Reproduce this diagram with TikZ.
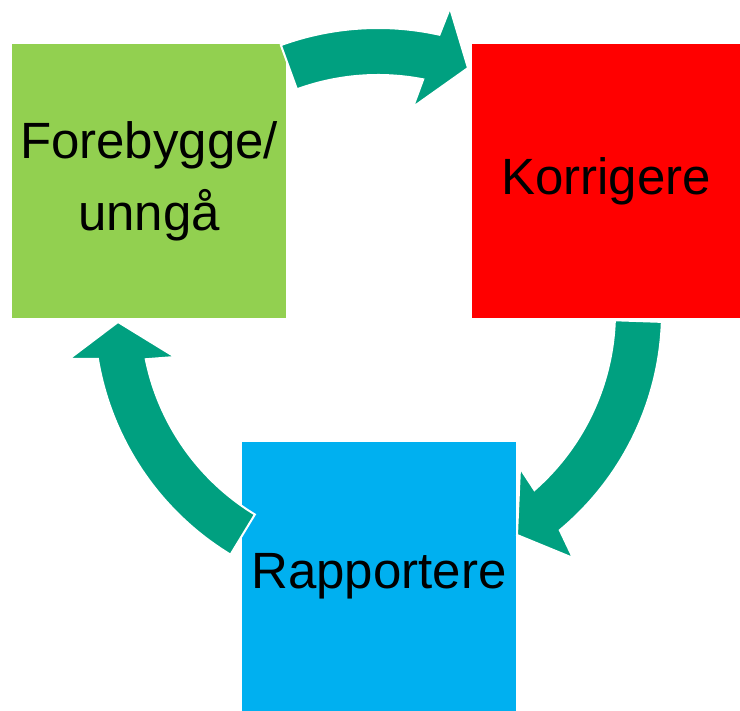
\documentclass[tikz,border=0pt]{standalone}
\usepackage{fontspec}
\setmainfont{Liberation Sans}
\usetikzlibrary{calc}
\definecolor{greenish}{RGB}{146,208,80}
\definecolor{reddish}{RGB}{255,0,0}
\definecolor{bluish}{RGB}{0,176,240}
\definecolor{tealish}{RGB}{0,160,128}

\begin{document}
\begin{tikzpicture}[
  x=1pt,
  y=1pt,
  box/.style={
    draw=none,
    rectangle,
    inner sep=0pt,
    align=center,
    font=\fontsize{51}{72}\selectfont
  },
  cyc/.style={
    fill=tealish,
    draw=white,
    line width=2pt,
    line join=miter
  }
]
\useasboundingbox (0,0) rectangle (740,711);

% Boxes
\node[box, fill=greenish, minimum width=274pt, minimum height=274pt]
  (prevent) at (149,530) {Forebygge/\\unngå};
\node[box, fill=reddish, minimum width=268pt, minimum height=274pt]
  (correct) at (606,530) {Korrigere};
\node[box, fill=bluish, minimum width=274pt, minimum height=269pt]
  (report) at (379,134.5) {Rapportere};

% Centre of the cycle
\coordinate (c) at (378,399);

% Arrow 1
\filldraw[cyc] ($(c)+(110:284)$) arc[start angle=110, end angle=77.5, radius=284]
  -- (450,703) -- (468,643) -- (413,604) -- ($(c)+(79:237)$)
  arc[start angle=79, end angle=110, radius=237] -- cycle;

% Arrow 2
\filldraw[cyc] ($(c)+(-2:284)$) arc[start angle=-2, end angle=-50.2, radius=284]
  -- (573,153) -- (517,176) -- (520,243) -- ($(c)+(-48.7:237)$)
  arc[start angle=-48.7, end angle=-2, radius=237] -- cycle;

% Arrow 3
\filldraw[cyc] ($(c)+(238.7:284)$) arc[start angle=238.7, end angle=189.5, radius=284]
  -- (69,352) -- (118,389) -- (175,354) -- ($(c)+(191.5:237)$)
  arc[start angle=191.5, end angle=238.7, radius=237] -- cycle;

\end{tikzpicture}
\end{document}
